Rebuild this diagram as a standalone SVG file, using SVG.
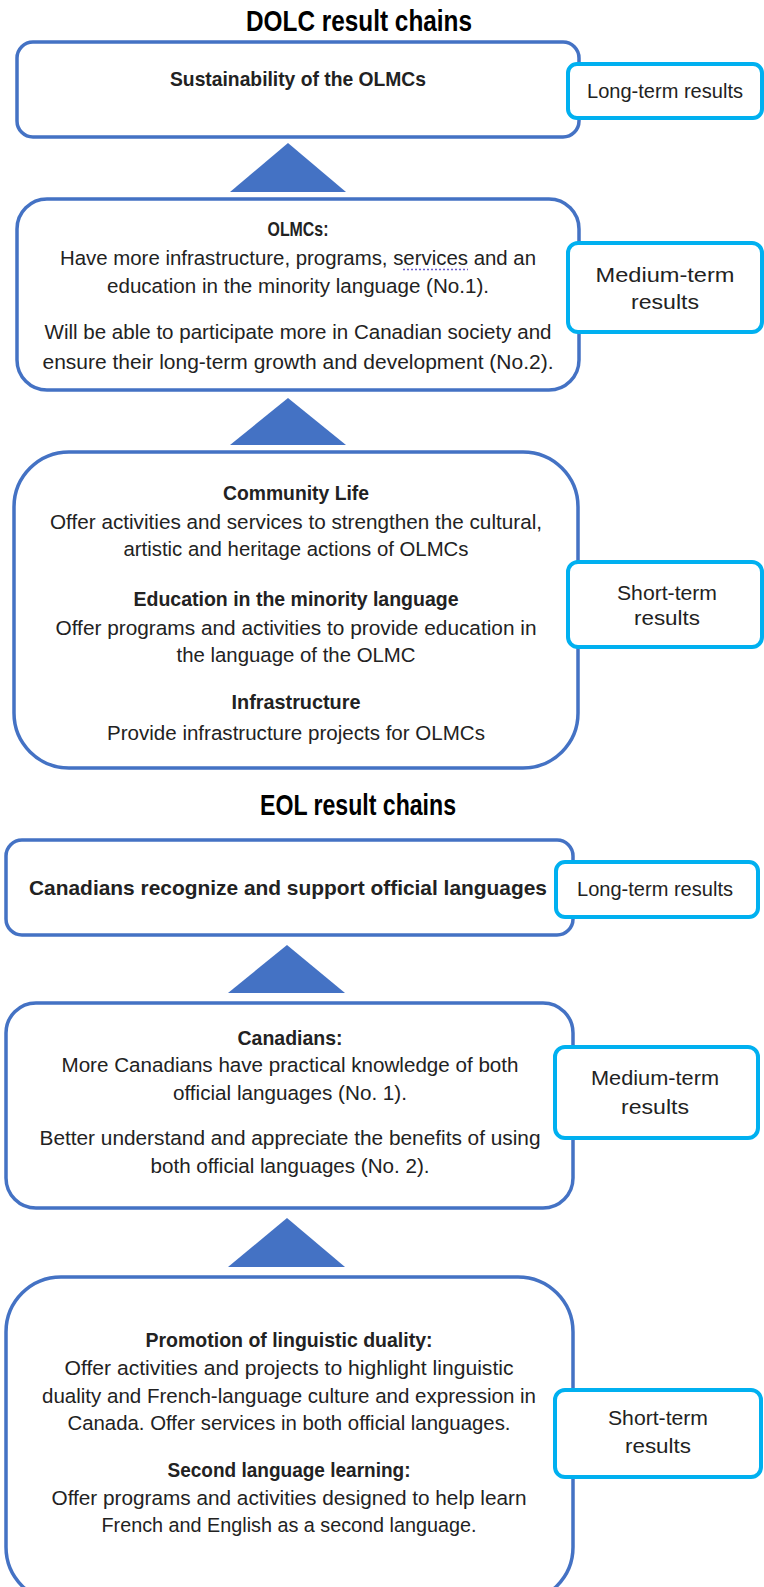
<svg xmlns="http://www.w3.org/2000/svg" width="764" height="1587" viewBox="0 0 764 1587">
<style>
.main{fill:#fff;stroke:#4472C4;stroke-width:3.5}
.lab{fill:#fff;stroke:#00B0F0;stroke-width:4}
.arr{fill:#4472C4}
text{font-family:"Liberation Sans",Arial,sans-serif;fill:#222;text-anchor:middle;font-size:20.5px}
.b{font-weight:bold}
.title{font-weight:bold;font-size:30px;fill:#000}
</style>
<rect width="764" height="1587" fill="#fff"/>
<g id="title-dolc"><text class="title" x="359" y="31" textLength="226" lengthAdjust="spacingAndGlyphs">DOLC result chains</text></g>
<g id="connectors">
<polygon class="arr" points="288,143 230,192 346,192"/>
<polygon class="arr" points="288,398 230,445 346,445"/>
<polygon class="arr" points="287,945 228,993 345,993"/>
<polygon class="arr" points="287,1218 228,1267 345,1267"/>
</g>
<g id="dolc-long">
<rect class="main" x="17" y="42" width="562" height="95" rx="16"/>
<text class="b" x="298" y="86" textLength="256" lengthAdjust="spacingAndGlyphs">Sustainability of the OLMCs</text>
</g>
<g id="dolc-long-label">
<rect class="lab" x="568" y="64" width="194" height="54" rx="9"/>
<text x="665" y="98" textLength="156" lengthAdjust="spacingAndGlyphs">Long-term results</text>
</g>
<g id="dolc-medium">
<rect class="main" x="17" y="199" width="562" height="191" rx="30"/>
<text class="b" x="298" y="236" textLength="61" lengthAdjust="spacingAndGlyphs">OLMCs:</text>
<text x="298" y="265" textLength="476" lengthAdjust="spacingAndGlyphs">Have more infrastructure, programs, services and an</text>
<line x1="403" y1="269.5" x2="468" y2="269.5" stroke="#6a5acd" stroke-width="1.5" stroke-dasharray="2 2"/>
<text x="298" y="293" textLength="382" lengthAdjust="spacingAndGlyphs">education in the minority language (No.1).</text>
<text x="298" y="339" textLength="507" lengthAdjust="spacingAndGlyphs">Will be able to participate more in Canadian society and</text>
<text x="298" y="369" textLength="511" lengthAdjust="spacingAndGlyphs">ensure their long-term growth and development (No.2).</text>
</g>
<g id="dolc-medium-label">
<rect class="lab" x="568" y="243" width="194" height="89" rx="10"/>
<text x="665" y="282" textLength="139" lengthAdjust="spacingAndGlyphs">Medium-term</text>
<text x="665" y="309" textLength="68" lengthAdjust="spacingAndGlyphs">results</text>
</g>
<g id="dolc-short">
<rect class="main" x="14" y="452" width="564" height="316" rx="55"/>
<text class="b" x="296" y="500" textLength="146" lengthAdjust="spacingAndGlyphs">Community Life</text>
<text x="296" y="529" textLength="492" lengthAdjust="spacingAndGlyphs">Offer activities and services to strengthen the cultural,</text>
<text x="296" y="556" textLength="345" lengthAdjust="spacingAndGlyphs">artistic and heritage actions of OLMCs</text>
<text class="b" x="296" y="606" textLength="325" lengthAdjust="spacingAndGlyphs">Education in the minority language</text>
<text x="296" y="635" textLength="481" lengthAdjust="spacingAndGlyphs">Offer programs and activities to provide education in</text>
<text x="296" y="662" textLength="239" lengthAdjust="spacingAndGlyphs">the language of the OLMC</text>
<text class="b" x="296" y="709" textLength="129" lengthAdjust="spacingAndGlyphs">Infrastructure</text>
<text x="296" y="740" textLength="378" lengthAdjust="spacingAndGlyphs">Provide infrastructure projects for OLMCs</text>
</g>
<g id="dolc-short-label">
<rect class="lab" x="568" y="562" width="194" height="85" rx="10"/>
<text x="667" y="600" textLength="100" lengthAdjust="spacingAndGlyphs">Short-term</text>
<text x="667" y="625" textLength="66" lengthAdjust="spacingAndGlyphs">results</text>
</g>
<g id="title-eol"><text class="title" x="358" y="815" textLength="196" lengthAdjust="spacingAndGlyphs">EOL result chains</text></g>
<g id="eol-long">
<rect class="main" x="6" y="840" width="567" height="95" rx="16"/>
<text class="b" x="288" y="895" textLength="518" lengthAdjust="spacingAndGlyphs">Canadians recognize and support official languages</text>
</g>
<g id="eol-long-label">
<rect class="lab" x="556" y="862" width="202" height="55" rx="9"/>
<text x="655" y="896" textLength="156" lengthAdjust="spacingAndGlyphs">Long-term results</text>
</g>
<g id="eol-medium">
<rect class="main" x="6" y="1003" width="567" height="205" rx="30"/>
<text class="b" x="290" y="1045" textLength="105" lengthAdjust="spacingAndGlyphs">Canadians:</text>
<text x="290" y="1072" textLength="457" lengthAdjust="spacingAndGlyphs">More Canadians have practical knowledge of both</text>
<text x="290" y="1100" textLength="234" lengthAdjust="spacingAndGlyphs">official languages (No. 1).</text>
<text x="290" y="1145" textLength="501" lengthAdjust="spacingAndGlyphs">Better understand and appreciate the benefits of using</text>
<text x="290" y="1173" textLength="279" lengthAdjust="spacingAndGlyphs">both official languages (No. 2).</text>
</g>
<g id="eol-medium-label">
<rect class="lab" x="555" y="1047" width="203" height="91" rx="10"/>
<text x="655" y="1085" textLength="128" lengthAdjust="spacingAndGlyphs">Medium-term</text>
<text x="655" y="1114" textLength="68" lengthAdjust="spacingAndGlyphs">results</text>
</g>
<g id="eol-short">
<rect class="main" x="6" y="1277" width="567" height="325" rx="55"/>
<text class="b" x="289" y="1347" textLength="287" lengthAdjust="spacingAndGlyphs">Promotion of linguistic duality:</text>
<text x="289" y="1375" textLength="449" lengthAdjust="spacingAndGlyphs">Offer activities and projects to highlight linguistic</text>
<text x="289" y="1403" textLength="494" lengthAdjust="spacingAndGlyphs">duality and French-language culture and expression in</text>
<text x="289" y="1430" textLength="443" lengthAdjust="spacingAndGlyphs">Canada. Offer services in both official languages.</text>
<text class="b" x="289" y="1477" textLength="243" lengthAdjust="spacingAndGlyphs">Second language learning:</text>
<text x="289" y="1505" textLength="475" lengthAdjust="spacingAndGlyphs">Offer programs and activities designed to help learn</text>
<text x="289" y="1532" textLength="375" lengthAdjust="spacingAndGlyphs">French and English as a second language.</text>
</g>
<g id="eol-short-label">
<rect class="lab" x="555" y="1390" width="206" height="87" rx="10"/>
<text x="658" y="1425" textLength="100" lengthAdjust="spacingAndGlyphs">Short-term</text>
<text x="658" y="1453" textLength="66" lengthAdjust="spacingAndGlyphs">results</text>
</g>
</svg>
